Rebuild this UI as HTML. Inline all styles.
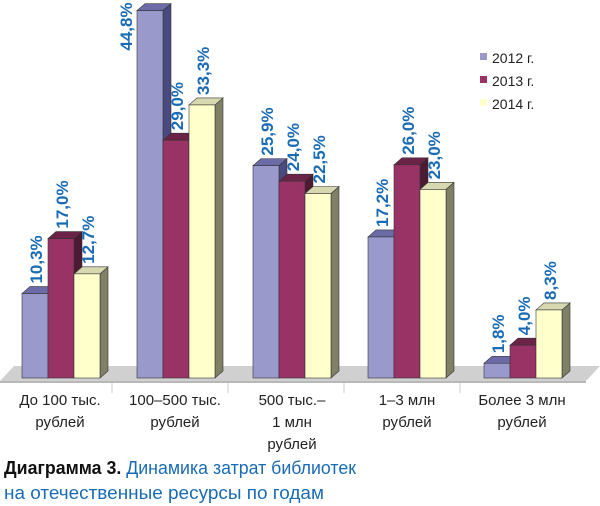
<!DOCTYPE html>
<html><head><meta charset="utf-8"><style>
body{margin:0;background:#fff;width:600px;height:506px;overflow:hidden}
svg{display:block}
</style></head><body>
<svg id="s" width="600" height="506" xmlns="http://www.w3.org/2000/svg" font-family="'Liberation Sans', sans-serif">
<polygon points="0,381 14,366 600,366 586,381" fill="#d0d0d0"/>
<polygon points="0,381 586,381 586,383 0,383" fill="#b8b8b8"/>
<g stroke="#ccc" stroke-width="1">
<line x1="112" y1="383" x2="112" y2="393"/><line x1="228" y1="383" x2="228" y2="393"/>
<line x1="344" y1="383" x2="344" y2="393"/><line x1="460" y1="383" x2="460" y2="393"/>
</g>
<g id="bars"></g>
<rect x="480" y="53" width="7" height="7" fill="#9999cc"/>
<rect x="480" y="76" width="7" height="7" fill="#993366"/>
<rect x="480" y="99" width="7" height="7" fill="#ffffcc"/>
<g font-size="14" fill="#222">
<text x="492" y="63">2012 г.</text><text x="492" y="86">2013 г.</text><text x="492" y="109">2014 г.</text>
</g>
<g font-size="15" fill="#222" text-anchor="middle">
<text x="60" y="405">До 100 тыс.</text><text x="60" y="427">рублей</text>
<text x="175" y="405">100–500 тыс.</text><text x="175" y="427">рублей</text>
<text x="292" y="405">500 тыс.–</text><text x="292" y="427">1 млн</text><text x="292" y="449">рублей</text>
<text x="407" y="405">1–3 млн</text><text x="407" y="427">рублей</text>
<text x="522" y="405">Более 3 млн</text><text x="522" y="427">рублей</text>
</g>
<text x="4" y="474" font-size="18" textLength="352" lengthAdjust="spacingAndGlyphs"><tspan font-weight="bold" fill="#111">Диаграмма 3.</tspan><tspan fill="#1a6bb5"> Динамика затрат библиотек</tspan></text>
<text x="4" y="499" font-size="18" fill="#1a6bb5" textLength="320" lengthAdjust="spacingAndGlyphs">на отечественные ресурсы по годам</text>
</svg>
<script>
var data=[[10.3,17.0,12.7],[44.8,29.0,33.3],[25.9,24.0,22.5],[17.2,26.0,23.0],[1.8,4.0,8.3]];
var gx=[22,137,253,368,484];
var col=[["#9999cc","#6b6ba8","#4a4a80"],["#993366","#6b2447","#4d1a33"],["#ffffcc","#d8d8b0","#808066"]];
var h='',B=378,w=26,dx=8,dy=7;
data.forEach(function(g,i){g.forEach(function(v,j){
var x=gx[i]+j*w,y=B-v*8.2,c=col[j];
h+='<polygon points="'+(x+w)+','+y+' '+(x+w+dx)+','+(y-dy)+' '+(x+w+dx)+','+(B-dy)+' '+(x+w)+','+B+'" fill="'+c[2]+'" stroke="#333" stroke-width="0.6"/>';
h+='<polygon points="'+x+','+y+' '+(x+dx)+','+(y-dy)+' '+(x+w+dx)+','+(y-dy)+' '+(x+w)+','+y+'" fill="'+c[1]+'" stroke="#333" stroke-width="0.6"/>';
h+='<rect x="'+x+'" y="'+y+'" width="'+w+'" height="'+(B-y)+'" fill="'+c[0]+'" stroke="#333" stroke-width="0.6"/>';
var lx=x+w/2+7,ly=y-10;
if(v==44.8){lx=x-5;ly=y+40;}
h+='<text transform="translate('+lx+','+ly+') rotate(-90)" font-size="17" font-weight="bold" fill="#1a6bb5">'+v.toFixed(1).replace('.',',')+'%</text>';
});});
document.getElementById('bars').innerHTML=h;
</script>
</body></html>
